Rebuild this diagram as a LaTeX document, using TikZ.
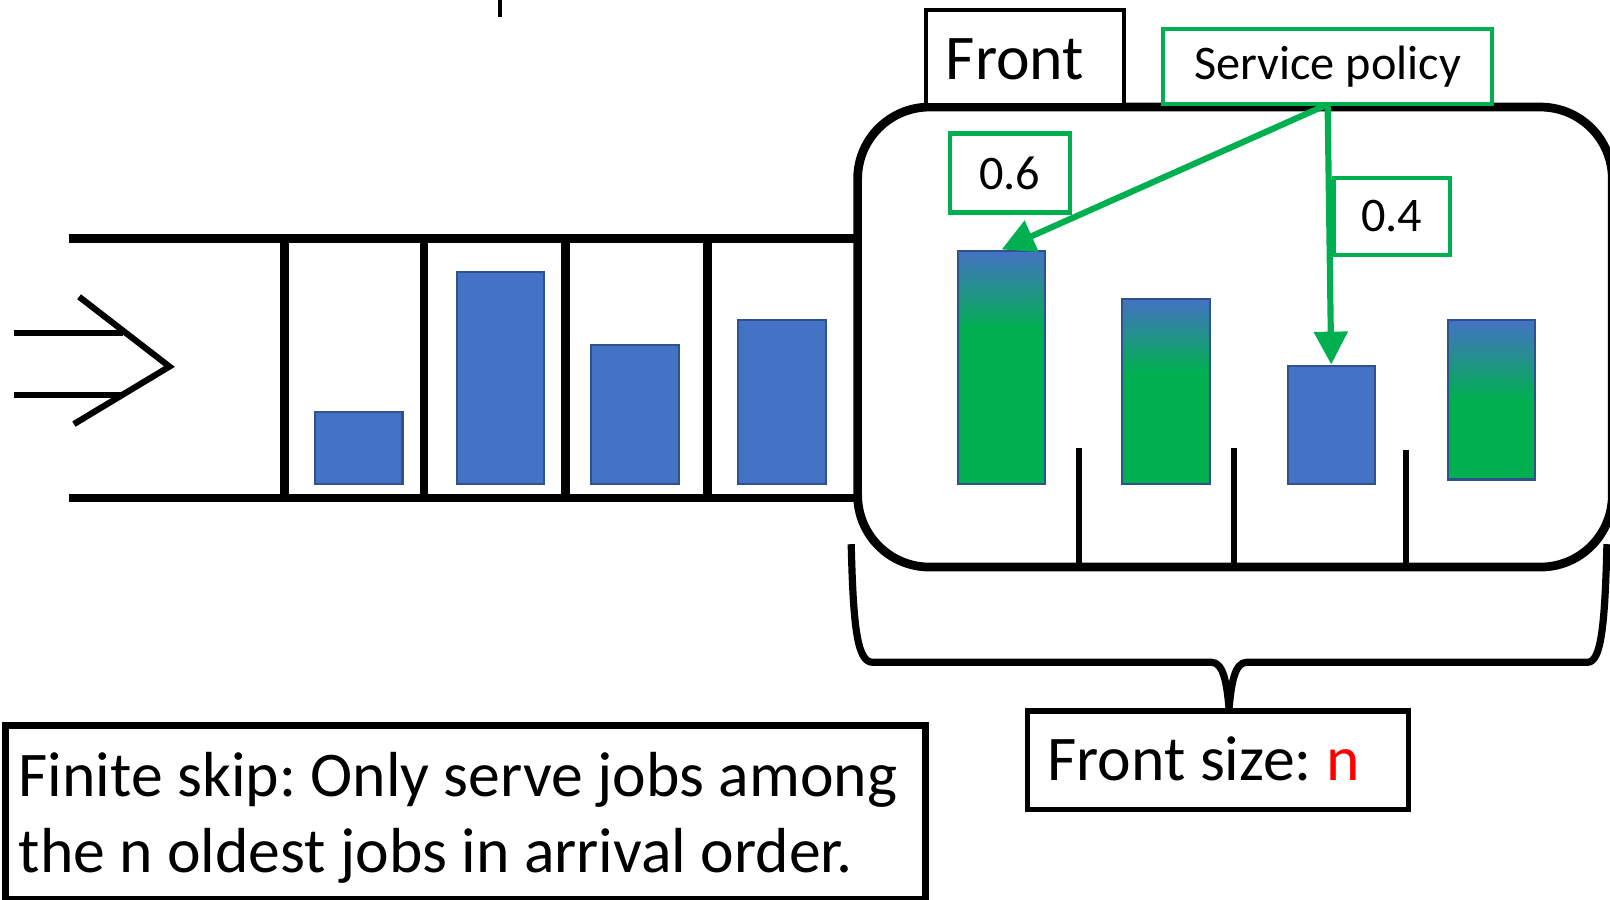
\documentclass[tikz,border=0pt]{standalone}
\usepackage{fontspec}
\setmainfont{Carlito}
\usetikzlibrary{arrows.meta,calc}
\definecolor{jobblue}{RGB}{68,114,196}
\definecolor{jobedge}{RGB}{47,82,143}
\definecolor{polgreen}{RGB}{0,176,80}
\definecolor{nred}{RGB}{255,0,0}
\pgfdeclareverticalshading{gradA}{100bp}{color(0bp)=(polgreen); color(58bp)=(polgreen); color(75bp)=(jobblue); color(100bp)=(jobblue)}
\pgfdeclareverticalshading{gradB}{100bp}{color(0bp)=(polgreen); color(55bp)=(polgreen); color(75bp)=(jobblue); color(100bp)=(jobblue)}
\pgfdeclareverticalshading{gradD}{100bp}{color(0bp)=(polgreen); color(50bp)=(polgreen); color(75bp)=(jobblue); color(100bp)=(jobblue)}
\frenchspacing
\begin{document}
\begin{tikzpicture}[x=1pt,y=-1pt,
  jobbar/.style={draw=jobedge, line width=2pt, fill=jobblue, anchor=north west, inner sep=0pt, minimum width=85pt},
  gradbar/.style={draw=jobedge, line width=2pt, shade, shading=#1, anchor=north west, inner sep=0pt, minimum width=85pt},
  qline/.style={line width=8.5pt},
  gbox/.style={draw=polgreen, line width=4pt, fill=white, anchor=north west, inner sep=0pt, font=\fontsize{47}{56}\selectfont},
  garrow/.style={draw=polgreen, line width=6pt, -{Triangle[length=32pt,width=32pt]}},
  bigtext/.style={font=\fontsize{62}{75}\selectfont, inner sep=0pt},
]
\useasboundingbox (0,0) rectangle (1568,876);

% top tick
\draw[line width=4.5pt] (487,-2) -- (487,17);

% arrival arrow
\draw[line width=6pt] (14,324) -- (120,324);
\draw[line width=6pt] (14,385) -- (120,385);
\draw[line width=6pt] (77,289) -- (165,357) -- (72,413);

% queue
\draw[qline] (67,232) -- (832,232);
\draw[qline] (67,485) -- (832,485);
\foreach \x in {277,413,551,689}{\draw[qline] (\x,232) -- (\x,485);}

\node[jobbar, minimum height=70pt] (q1) at (306,400) {};
\node[jobbar, minimum height=206pt] (q2) at (444,264) {};
\node[jobbar, minimum height=135pt] (q3) at (575,335) {};
\node[jobbar, minimum height=159pt] (q4) at (718,311) {};

% front area
\node[draw, line width=8.5pt, rounded corners=70pt, anchor=north west, inner sep=0pt,
      minimum width=735pt, minimum height=448pt] (area) at (831,100) {};
\foreach \x/\y in {1051/436,1202/436,1369/438}{\draw[line width=6pt] (\x,\y) -- (\x,548);}

% front label box
\node[draw, line width=4pt, fill=white, anchor=north west, inner sep=0pt,
      minimum width=193pt, minimum height=92pt] (front) at (900,8) {};
\node[bigtext, anchor=base west] (fronttxt) at (921,77) {Front};

% front bars
\node[gradbar=gradA, minimum height=227pt] (fA) at (932,243) {};
\node[gradbar=gradB, minimum height=180pt] (fB) at (1092,290) {};
\node[jobbar, minimum height=115pt] (fC) at (1253,355) {};
\node[gradbar=gradD, minimum height=155pt] (fD) at (1409,311) {};

% policy
\node[gbox, minimum width=320pt, minimum height=73pt] (sp) at (1131,26) {Service policy};
\node[gbox, minimum width=117pt, minimum height=77pt] (p6) at (923,128) {0.6};
\node[gbox, minimum width=113pt, minimum height=75pt] (p4) at (1297,171) {0.4};
\draw[garrow] ($(sp.south)+(-3,0)$) -- (fA.north);
\draw[garrow] (sp.south) -- (fC.north);

% brace
\coordinate (btip) at (1197,690);
\draw[line width=7pt, line join=round] (829,530) .. controls (831,612) and (835,645) .. (850,645) -- (1180,645) .. controls (1192,645) and (1195,668) .. (btip);
\draw[line width=7pt, line join=round] (1565,530) .. controls (1563,612) and (1559,645) .. (1546,645) -- (1214,645) .. controls (1202,645) and (1199,668) .. (btip);

% front size box
\node[draw, line width=5pt, fill=white, anchor=north west, inner sep=0pt,
      minimum width=371pt, minimum height=96pt] (fsize) at (998,690) {};
\node[bigtext, anchor=base west] (fsizetxt) at (1020,760) {Front size: \textcolor{nred}{n}};

% finite skip box
\node[draw, line width=7pt, anchor=north west, inner sep=0pt,
      minimum width=896pt, minimum height=170pt] (skip) at (2,703) {};
\node[bigtext, anchor=base west] (skip1) at (18,776) {Finite skip: Only serve jobs among};
\node[bigtext, anchor=base west] (skip2) at (18,850) {the n oldest jobs in arrival order.};
\end{tikzpicture}
\end{document}
